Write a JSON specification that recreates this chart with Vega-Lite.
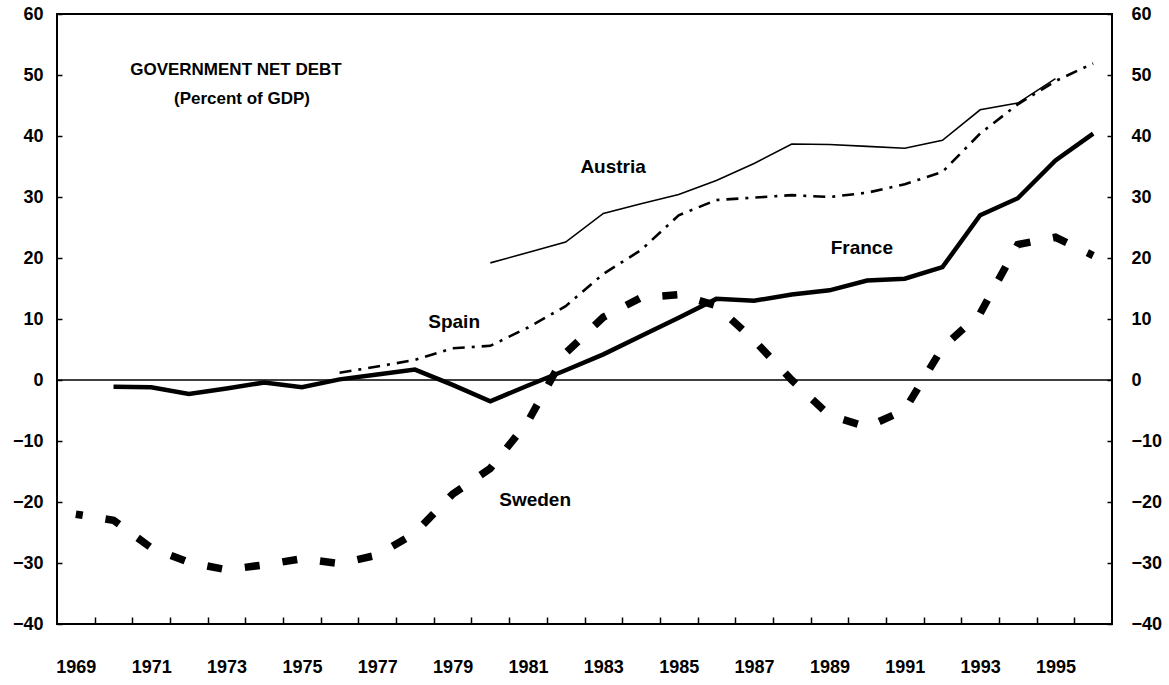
{
  "$schema": "https://vega.github.io/schema/vega-lite/v6.json",
  "width": 1055,
  "height": 610,
  "autosize": {"type": "none"},
  "padding": {"left": 57, "top": 14, "right": 57, "bottom": 61},
  "background": "white",
  "config": {
    "view": {"stroke": "black", "strokeWidth": 2},
    "axis": {
      "labelFont": "Liberation Sans",
      "labelFontWeight": "bold",
      "labelFontSize": 18,
      "labelColor": "black",
      "tickColor": "black",
      "tickWidth": 1.5,
      "domain": false,
      "grid": false,
      "title": null,
      "labelOverlap": false,
      "labelFlush": false
    },
    "text": {"font": "Liberation Sans", "fontWeight": "bold", "color": "black"}
  },
  "datasets": {
    "one": [{}],
    "debt": [
      {"year": 1970, "country": "France", "value": -1.1},
      {"year": 1971, "country": "France", "value": -1.2},
      {"year": 1972, "country": "France", "value": -2.3},
      {"year": 1973, "country": "France", "value": -1.4},
      {"year": 1974, "country": "France", "value": -0.4},
      {"year": 1975, "country": "France", "value": -1.2},
      {"year": 1976, "country": "France", "value": 0.1},
      {"year": 1977, "country": "France", "value": 0.9},
      {"year": 1978, "country": "France", "value": 1.7},
      {"year": 1979, "country": "France", "value": -0.8},
      {"year": 1980, "country": "France", "value": -3.5},
      {"year": 1981, "country": "France", "value": -0.9},
      {"year": 1982, "country": "France", "value": 1.6},
      {"year": 1983, "country": "France", "value": 4.2},
      {"year": 1984, "country": "France", "value": 7.2},
      {"year": 1985, "country": "France", "value": 10.2},
      {"year": 1986, "country": "France", "value": 13.3},
      {"year": 1987, "country": "France", "value": 13.0},
      {"year": 1988, "country": "France", "value": 14.0},
      {"year": 1989, "country": "France", "value": 14.7},
      {"year": 1990, "country": "France", "value": 16.3},
      {"year": 1991, "country": "France", "value": 16.6},
      {"year": 1992, "country": "France", "value": 18.5},
      {"year": 1993, "country": "France", "value": 27.0},
      {"year": 1994, "country": "France", "value": 29.8},
      {"year": 1995, "country": "France", "value": 36.0},
      {"year": 1996, "country": "France", "value": 40.4},
      {"year": 1980, "country": "Austria", "value": 19.2},
      {"year": 1981, "country": "Austria", "value": 20.9},
      {"year": 1982, "country": "Austria", "value": 22.6},
      {"year": 1983, "country": "Austria", "value": 27.3},
      {"year": 1984, "country": "Austria", "value": 28.9},
      {"year": 1985, "country": "Austria", "value": 30.4},
      {"year": 1986, "country": "Austria", "value": 32.7},
      {"year": 1987, "country": "Austria", "value": 35.5},
      {"year": 1988, "country": "Austria", "value": 38.7},
      {"year": 1989, "country": "Austria", "value": 38.6},
      {"year": 1990, "country": "Austria", "value": 38.3},
      {"year": 1991, "country": "Austria", "value": 38.0},
      {"year": 1992, "country": "Austria", "value": 39.3},
      {"year": 1993, "country": "Austria", "value": 44.3},
      {"year": 1994, "country": "Austria", "value": 45.4},
      {"year": 1995, "country": "Austria", "value": 49.4},
      {"year": 1976, "country": "Spain", "value": 1.2},
      {"year": 1977, "country": "Spain", "value": 2.2},
      {"year": 1978, "country": "Spain", "value": 3.3},
      {"year": 1979, "country": "Spain", "value": 5.2},
      {"year": 1980, "country": "Spain", "value": 5.6},
      {"year": 1981, "country": "Spain", "value": 8.6},
      {"year": 1982, "country": "Spain", "value": 12.1},
      {"year": 1983, "country": "Spain", "value": 17.4},
      {"year": 1984, "country": "Spain", "value": 21.3},
      {"year": 1985, "country": "Spain", "value": 27.0},
      {"year": 1986, "country": "Spain", "value": 29.5},
      {"year": 1987, "country": "Spain", "value": 29.9},
      {"year": 1988, "country": "Spain", "value": 30.3},
      {"year": 1989, "country": "Spain", "value": 30.0},
      {"year": 1990, "country": "Spain", "value": 30.7},
      {"year": 1991, "country": "Spain", "value": 32.1},
      {"year": 1992, "country": "Spain", "value": 34.1},
      {"year": 1993, "country": "Spain", "value": 40.4},
      {"year": 1994, "country": "Spain", "value": 45.2},
      {"year": 1995, "country": "Spain", "value": 49.0},
      {"year": 1996, "country": "Spain", "value": 51.9},
      {"year": 1969, "country": "Sweden", "value": -22.0},
      {"year": 1970, "country": "Sweden", "value": -23.0},
      {"year": 1971, "country": "Sweden", "value": -27.5},
      {"year": 1972, "country": "Sweden", "value": -29.9},
      {"year": 1973, "country": "Sweden", "value": -31.1},
      {"year": 1974, "country": "Sweden", "value": -30.3},
      {"year": 1975, "country": "Sweden", "value": -29.3},
      {"year": 1976, "country": "Sweden", "value": -30.1},
      {"year": 1977, "country": "Sweden", "value": -28.7},
      {"year": 1978, "country": "Sweden", "value": -25.1},
      {"year": 1979, "country": "Sweden", "value": -18.7},
      {"year": 1980, "country": "Sweden", "value": -14.5},
      {"year": 1981, "country": "Sweden", "value": -6.8},
      {"year": 1982, "country": "Sweden", "value": 4.4},
      {"year": 1983, "country": "Sweden", "value": 10.3},
      {"year": 1984, "country": "Sweden", "value": 13.5},
      {"year": 1985, "country": "Sweden", "value": 14.0},
      {"year": 1986, "country": "Sweden", "value": 12.2},
      {"year": 1987, "country": "Sweden", "value": 6.5},
      {"year": 1988, "country": "Sweden", "value": 0.0},
      {"year": 1989, "country": "Sweden", "value": -5.8},
      {"year": 1990, "country": "Sweden", "value": -7.7},
      {"year": 1991, "country": "Sweden", "value": -4.9},
      {"year": 1992, "country": "Sweden", "value": 5.3},
      {"year": 1993, "country": "Sweden", "value": 10.9},
      {"year": 1994, "country": "Sweden", "value": 22.2},
      {"year": 1995, "country": "Sweden", "value": 23.4},
      {"year": 1996, "country": "Sweden", "value": 20.4}
    ]
  },
  "resolve": {"axis": {"x": "independent", "y": "independent"}},
  "layer": [
    {
      "data": {"name": "one"},
      "mark": {"type": "rule", "color": "black", "strokeWidth": 1.5},
      "encoding": {
        "x": {
          "datum": 1968.5,
          "type": "quantitative",
          "scale": {"domain": [1968.5, 1996.5], "nice": false, "zero": false},
          "axis": {
            "orient": "bottom",
            "values": [1969.5, 1970.5, 1971.5, 1972.5, 1973.5, 1974.5, 1975.5, 1976.5, 1977.5, 1978.5, 1979.5, 1980.5, 1981.5, 1982.5, 1983.5, 1984.5, 1985.5, 1986.5, 1987.5, 1988.5, 1989.5, 1990.5, 1991.5, 1992.5, 1993.5, 1994.5, 1995.5],
            "labels": false,
            "ticks": true,
            "tickSize": -7
          }
        },
        "x2": {"datum": 1996.5},
        "y": {
          "datum": 0,
          "type": "quantitative",
          "scale": {"domain": [-40, 60], "nice": false, "zero": false},
          "axis": {
            "orient": "right",
            "values": [-40, -30, -20, -10, 0, 10, 20, 30, 40, 50, 60],
            "tickSize": -5,
            "labelPadding": 24,
            "labelAlign": "left"
          }
        }
      }
    },
    {
      "data": {"name": "debt"},
      "transform": [{"filter": "datum.country === 'Austria'"}],
      "mark": {"type": "line", "color": "black", "strokeWidth": 1.6},
      "encoding": {
        "x": {
          "field": "year",
          "type": "quantitative",
          "axis": {
            "orient": "bottom",
            "values": [1969, 1971, 1973, 1975, 1977, 1979, 1981, 1983, 1985, 1987, 1989, 1991, 1993, 1995],
            "format": "d",
            "ticks": false,
            "labelPadding": 34,
            "labelBaseline": "top"
          }
        },
        "y": {
          "field": "value",
          "type": "quantitative",
          "axis": {
            "orient": "left",
            "values": [-40, -30, -20, -10, 0, 10, 20, 30, 40, 50, 60],
            "tickSize": -5,
            "labelPadding": 19
          }
        }
      }
    },
    {
      "data": {"name": "debt"},
      "transform": [{"filter": "datum.country === 'Spain'"}],
      "mark": {"type": "line", "color": "black", "strokeWidth": 2.6, "strokeDash": [12, 7, 3, 7]},
      "encoding": {
        "x": {"field": "year", "type": "quantitative", "axis": null},
        "y": {"field": "value", "type": "quantitative", "axis": null}
      }
    },
    {
      "data": {"name": "debt"},
      "transform": [{"filter": "datum.country === 'France'"}],
      "mark": {"type": "line", "color": "black", "strokeWidth": 4.5},
      "encoding": {
        "x": {"field": "year", "type": "quantitative", "axis": null},
        "y": {"field": "value", "type": "quantitative", "axis": null}
      }
    },
    {
      "data": {"name": "debt"},
      "transform": [{"filter": "datum.country === 'Sweden'"}],
      "mark": {"type": "line", "color": "black", "strokeWidth": 7.5, "strokeDash": [15, 23], "strokeDashOffset": 8},
      "encoding": {
        "x": {"field": "year", "type": "quantitative", "axis": null},
        "y": {"field": "value", "type": "quantitative", "axis": null}
      }
    },
    {
      "data": {"name": "one"},
      "mark": {"type": "text", "text": "GOVERNMENT NET DEBT", "fontSize": 17, "align": "center", "baseline": "middle"},
      "encoding": {
        "x": {"datum": 1973.25, "type": "quantitative", "axis": null},
        "y": {"datum": 50.9, "type": "quantitative", "axis": null}
      }
    },
    {
      "data": {"name": "one"},
      "mark": {"type": "text", "text": "(Percent of GDP)", "fontSize": 17, "align": "center", "baseline": "middle"},
      "encoding": {
        "x": {"datum": 1973.41, "type": "quantitative", "axis": null},
        "y": {"datum": 46.0, "type": "quantitative", "axis": null}
      }
    },
    {
      "data": {"name": "one"},
      "mark": {"type": "text", "text": "Austria", "fontSize": 19, "align": "center", "baseline": "middle"},
      "encoding": {
        "x": {"datum": 1983.26, "type": "quantitative", "axis": null},
        "y": {"datum": 35.0, "type": "quantitative", "axis": null}
      }
    },
    {
      "data": {"name": "one"},
      "mark": {"type": "text", "text": "Spain", "fontSize": 19, "align": "center", "baseline": "middle"},
      "encoding": {
        "x": {"datum": 1979.04, "type": "quantitative", "axis": null},
        "y": {"datum": 9.5, "type": "quantitative", "axis": null}
      }
    },
    {
      "data": {"name": "one"},
      "mark": {"type": "text", "text": "France", "fontSize": 19, "align": "center", "baseline": "middle"},
      "encoding": {
        "x": {"datum": 1989.86, "type": "quantitative", "axis": null},
        "y": {"datum": 21.6, "type": "quantitative", "axis": null}
      }
    },
    {
      "data": {"name": "one"},
      "mark": {"type": "text", "text": "Sweden", "fontSize": 19, "align": "center", "baseline": "middle"},
      "encoding": {
        "x": {"datum": 1981.19, "type": "quantitative", "axis": null},
        "y": {"datum": -19.6, "type": "quantitative", "axis": null}
      }
    }
  ]
}
